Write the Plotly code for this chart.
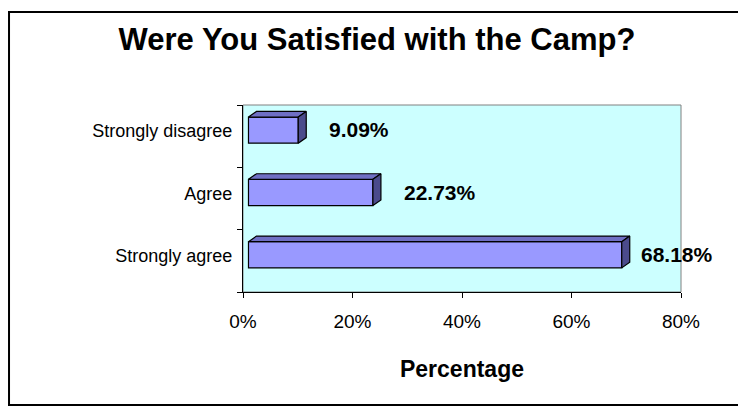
import plotly.graph_objects as go

# Dados (de baixo para cima no eixo)
categories = ["Strongly agree", "Agree", "Strongly disagree"]
values = [68.18, 22.73, 9.09]
x_ticks = [0, 20, 40, 60, 80]

FONT = "Liberation Sans, Arial, sans-serif"
colors = {
    'front': '#9999FF',
    'top': '#6f6fc4',
    'side': '#4b4b8c',
    'wall': '#CCFFFF',
    'edge': '#000000',
}

# geometria do "3D" (unidades dos eixos)
bar_width = 0.42
bar_offset = -0.113
gap = 1.0      # afastamento da face frontal em relação à parede
dx = 1.46
dy = 0.09

positions = list(range(len(categories)))

fig = go.Figure()

fig.add_trace(go.Bar(
    x=values,
    y=positions,
    base=gap,
    orientation='h',
    width=bar_width,
    offset=bar_offset,
    marker=dict(color=colors['front'], line=dict(color=colors['edge'], width=1.2)),
    hoverinfo='skip',
    showlegend=False,
))

# faces de topo e lateral
for pos, val in zip(positions, values):
    y0 = pos + bar_offset
    y1 = y0 + bar_width
    x0 = gap
    x1 = gap + val
    fig.add_trace(go.Scatter(
        x=[x0, x1, x1 + dx, x0 + dx, x0],
        y=[y1, y1, y1 + dy, y1 + dy, y1],
        mode='lines', fill='toself', fillcolor=colors['top'],
        line=dict(color=colors['edge'], width=1.2),
        hoverinfo='skip', showlegend=False,
    ))
    fig.add_trace(go.Scatter(
        x=[x1, x1 + dx, x1 + dx, x1, x1],
        y=[y0, y0 + dy, y1 + dy, y1, y0],
        mode='lines', fill='toself', fillcolor=colors['side'],
        line=dict(color=colors['edge'], width=1.2),
        hoverinfo='skip', showlegend=False,
    ))

# rótulos de dados
label_shift = [23, 35, 34]
for pos, val, sh in zip(positions, values, label_shift):
    fig.add_annotation(
        x=val, y=pos + 0.1, text=f"{val:.2f}%",
        xanchor='left', yanchor='middle', xshift=sh,
        showarrow=False,
        font=dict(family=FONT, size=21, color='black', weight='bold'),
    )

fig.update_layout(
    width=738,
    height=400,
    margin=dict(l=235, r=65, t=97, b=116),
    paper_bgcolor='white',
    plot_bgcolor=colors['wall'],
    font=dict(family=FONT, size=18, color='black'),
    title=dict(
        text="<b>Were You Satisfied with the Camp?</b>",
        x=0.5, xanchor='center', xref='container',
        y=1 - 31 / 400, yanchor='middle', yref='container',
        font=dict(family=FONT, size=31, color='black'),
    ),
    xaxis=dict(
        range=[0, 80],
        tickvals=x_ticks,
        ticktext=[f"{v}%" for v in x_ticks],
        ticks='outside', ticklen=5, tickcolor='black',
        ticklabelstandoff=7,
        showline=True, linecolor='black', linewidth=1,
        showgrid=False, zeroline=False,
        tickfont=dict(size=19),
        title=dict(text="<b>Percentage</b>", font=dict(size=23), standoff=30),
    ),
    yaxis=dict(
        range=[-0.5, 2.5],
        tickvals=[p + 0.08 for p in positions],
        ticktext=categories,
        ticks='',
        ticklabelstandoff=6,
        minor=dict(tickvals=[-0.5, 0.5, 1.5, 2.5], ticks='outside', ticklen=5, tickcolor='black'),
        showline=True, linecolor='black', linewidth=1,
        showgrid=False, zeroline=False,
        tickfont=dict(size=18),
    ),
    shapes=[
        # moldura cinza da parede
        dict(type='rect', xref='x domain', yref='y domain', x0=0, x1=1, y0=0, y1=1,
             line=dict(color='#808080', width=1), layer='below'),
        # borda externa do gráfico
        dict(type='rect', xref='paper', yref='paper',
             x0=-0.5342, x1=1.1416, y0=-0.6043, y1=1.497,
             line=dict(color='black', width=2)),
    ],
)

fig.write_html("out.html")
